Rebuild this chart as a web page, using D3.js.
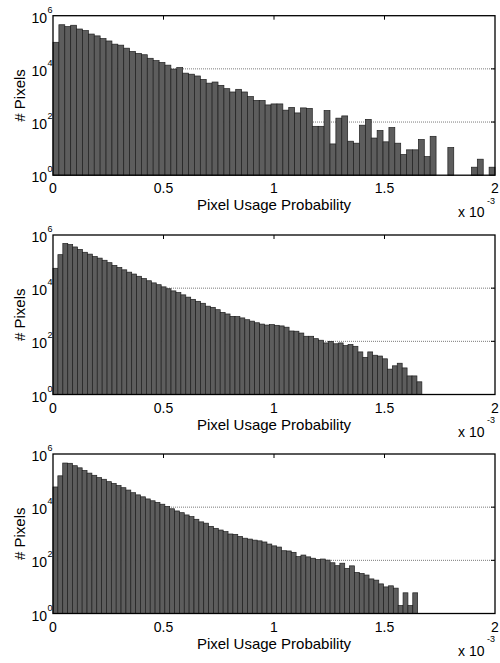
<!DOCTYPE html>
<html>
<head>
<meta charset="utf-8">
<script src="https://cdn.jsdelivr.net/npm/d3@7"></script>
<style>
  body { margin: 0; background: #fff; }
  text { font-family: "Liberation Sans", Arial, Helvetica, sans-serif; fill: #000; }
</style>
</head>
<body>
<svg id="chart" width="500" height="663"></svg>
<script>
// histogram counts, 75 bins each (bin k spans [k, k+1] * binMax / 75)
const counts1 = [
  100000, 457000, 389000, 437000, 316000, 275000, 204000, 174000, 138000, 112000,
  85000, 78000, 60000, 45000, 38000, 34000, 25000, 20400, 17400, 13800,
  9800, 11200, 6900, 6300, 5400, 4000, 2900, 3200, 2400, 1800,
  1350, 1700, 1350, 910, 650, 650, 440, 480, 480, 280,
  355, 220, 340, 325, 69, 69, 270, 15, 140, 170,
  19, 16, 76, 126, 25, 48, 18, 62, 16, 6,
  9, 9, 22, 5, 29, 0, 0, 11, 0, 0,
  0, 2, 4, 0, 2
];
const counts2 = [
  56000, 182000, 479000, 437000, 355000, 288000, 224000, 191000, 155000, 135000,
  112000, 91000, 72000, 60000, 49000, 40000, 34000, 28000, 23000, 19000,
  15800, 13500, 11200, 9500, 7900, 6800, 5600, 4600, 3800, 3200,
  2700, 2100, 1900, 1550, 1230, 1070, 870, 850, 760, 650,
  575, 500, 445, 410, 425, 400, 380, 340, 245, 240,
  205, 155, 155, 126, 110, 87, 100, 81, 87, 69,
  76, 65, 40, 25, 40, 30, 28, 22, 9, 12,
  15, 10, 5, 5, 3
];
const counts3 = [
  57500, 151000, 457000, 447000, 363000, 302000, 240000, 191000, 158000, 129000,
  112000, 91000, 78000, 65000, 54000, 44000, 35000, 29000, 24500, 20400,
  17400, 15100, 12900, 10700, 8700, 7200, 6200, 5100, 4400, 3500,
  2800, 2500, 1900, 1600, 1380, 1200, 980, 950, 790, 680,
  630, 575, 540, 490, 410, 350, 316, 230, 225, 200,
  138, 158, 135, 120, 107, 112, 102, 81, 63, 78,
  50, 62, 35, 32, 28, 20, 18, 13, 10, 11,
  9, 2, 6, 2, 6
];
const binMax = [2.0, 1.669, 1.650];   // upper edge of the last bin, in units of 10^-3
const xTicks = [0, 0.5, 1, 1.5, 2];
const yExponents = [0, 2, 4, 6];
const gridExponents = [2, 4];
const xLabel = "Pixel Usage Probability";
const yLabel = "# Pixels";

const panels = [counts1, counts2, counts3];
const left = 53, plotW = 442, plotH = 159.5;
const tops = [15.7, 235, 454];
const tickLen = 4;

const svg = d3.select("#chart");

const x = d3.scaleLinear().domain([0, 2]).range([0, plotW]);
const y = d3.scaleLog().domain([1, 1e6]).range([plotH, 0]);

panels.forEach((counts, p) => {
  const g = svg.append("g").attr("transform", `translate(${left},${tops[p]})`);
  const binW = binMax[p] / counts.length;

  // dotted grid lines
  g.selectAll(".grid")
    .data(gridExponents)
    .enter().append("line")
    .attr("x1", 0).attr("x2", plotW)
    .attr("y1", d => y(Math.pow(10, d)))
    .attr("y2", d => y(Math.pow(10, d)))
    .attr("stroke", "#7a7a7a")
    .attr("stroke-width", 1)
    .attr("stroke-dasharray", "1,1");

  // inward ticks on all four sides (drawn beneath the bars)
  const ticks = g.append("g").attr("stroke", "#000").attr("stroke-width", 1);
  xTicks.slice(1, -1).forEach(t => {
    ticks.append("line").attr("x1", x(t)).attr("x2", x(t)).attr("y1", 0).attr("y2", tickLen);
    ticks.append("line").attr("x1", x(t)).attr("x2", x(t)).attr("y1", plotH).attr("y2", plotH - tickLen);
  });
  gridExponents.forEach(e => {
    const yy = y(Math.pow(10, e));
    ticks.append("line").attr("x1", 0).attr("x2", tickLen).attr("y1", yy).attr("y2", yy);
    ticks.append("line").attr("x1", plotW).attr("x2", plotW - tickLen).attr("y1", yy).attr("y2", yy);
  });

  // histogram bars (empty bins are not drawn on the log axis)
  const bins = counts.map((c, k) => ({ x0: k * binW, x1: (k + 1) * binW, c }));
  g.selectAll(".bar")
    .data(bins.filter(d => d.c > 1))
    .enter().append("rect")
    .attr("x", d => x(d.x0))
    .attr("width", d => x(d.x1) - x(d.x0))
    .attr("y", d => y(d.c))
    .attr("height", d => plotH - y(d.c))
    .attr("fill", "#5d5d5d")
    .attr("stroke", "#1e1e1e")
    .attr("stroke-width", 0.7);

  // axes box
  g.append("rect")
    .attr("width", plotW).attr("height", plotH)
    .attr("fill", "none")
    .attr("stroke", "#000")
    .attr("stroke-width", 1.3);

  // x tick labels
  g.selectAll(".xt")
    .data(xTicks)
    .enter().append("text")
    .attr("x", d => x(d))
    .attr("y", plotH + 18)
    .attr("text-anchor", "middle")
    .attr("font-size", 14)
    .text(d => d);

  // y tick labels: 10 with superscript exponent
  yExponents.forEach(e => {
    const yy = y(Math.pow(10, e));
    g.append("text")
      .attr("x", -6).attr("y", yy + 7)
      .attr("text-anchor", "end")
      .attr("font-size", 14)
      .text("10");
    g.append("text")
      .attr("x", -5.5).attr("y", yy - 3)
      .attr("font-size", 9)
      .text(e);
  });

  // axis labels
  g.append("text")
    .attr("x", plotW / 2).attr("y", plotH + 35)
    .attr("text-anchor", "middle")
    .attr("font-size", 15)
    .text(xLabel);

  g.append("text")
    .attr("transform", `translate(${25 - left},${plotH / 2}) rotate(-90)`)
    .attr("text-anchor", "middle")
    .attr("font-size", 15)
    .text(yLabel);

  // axis multiplier
  g.append("text")
    .attr("x", 405).attr("y", plotH + 42)
    .attr("font-size", 14)
    .text("x 10");
  g.append("text")
    .attr("x", 434).attr("y", plotH + 28.5)
    .attr("font-size", 9)
    .text("-3");
});
</script>
</body>
</html>
